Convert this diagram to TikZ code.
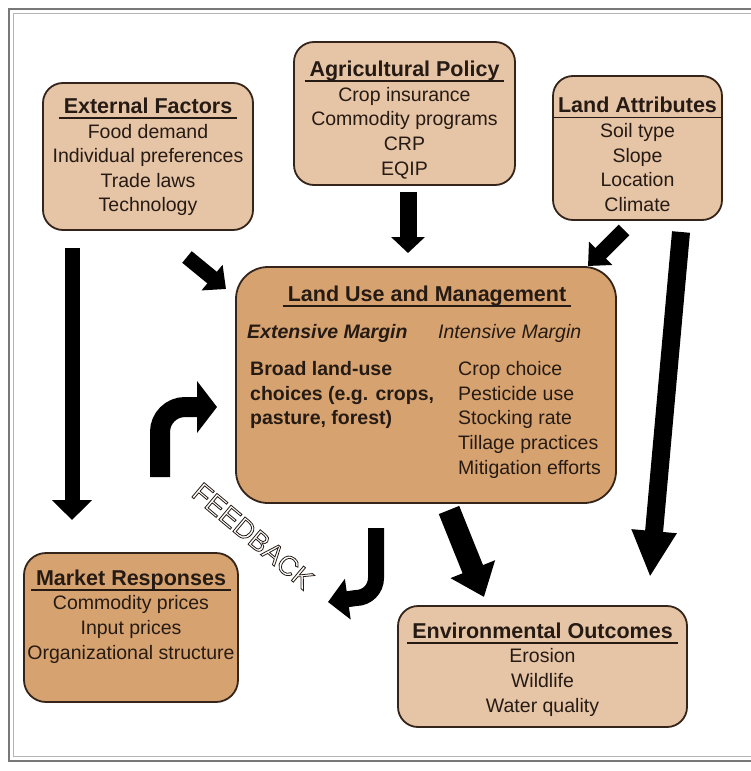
\documentclass[tikz,border=0pt]{standalone}
\usepackage{fontspec}
\setmainfont{Liberation Sans}
\usetikzlibrary{arrows.meta, calc}
\definecolor{tanlight}{RGB}{230,196,166}
\definecolor{tandark}{RGB}{214,162,112}
\definecolor{boxline}{RGB}{52,36,26}
\definecolor{inkdark}{RGB}{38,27,20}
\definecolor{framegray}{RGB}{120,120,120}

% bold heading with a rule a little wider than the words
\newcommand{\ulhead}[1]{\setbox0\hbox{\fontsize{21.5}{24.5}\selectfont\bfseries #1}%
  \rlap{\hspace*{-5pt}\rule[-5.5pt]{\dimexpr\wd0+10pt\relax}{1.8pt}}\box0}

\tikzset{
  panel/.style={draw=boxline, line width=1.8pt, fill=tanlight, rounded corners=20pt, inner sep=0pt, outer sep=0pt},
  paneltext/.style={align=center, text=inkdark, inner sep=0pt, font=\fontsize{19.5}{24.6}\selectfont},
  fat/.style n args={3}{draw=black, line width=#1, -{Triangle[length=#2, width=#3]}},
}

\begin{document}
\begin{tikzpicture}[x=1pt, y=-1pt]
    \useasboundingbox (0,0) rectangle (751,771);
    % frame
    \draw[framegray, line width=1.4pt] (9,9) rectangle (790,761);
    \draw[framegray!55, line width=1pt] (13.5,13.5) rectangle (786,756.5);

    % boxes
    \node[panel, minimum width=210pt, minimum height=147pt] (ext) at (148,156.5) {};
    \node[panel, minimum width=221pt, minimum height=143pt] (agri) at (404.5,113.5) {};
    \node[panel, minimum width=169pt, minimum height=144pt] (land) at (637.5,148) {};
    \node[panel, fill=tandark, rounded corners=32pt, minimum width=380pt, minimum height=236pt] (lum) at (426,385) {};
    \node[panel, fill=tandark, rounded corners=22pt, minimum width=214pt, minimum height=149pt] (mkt) at (131,627.5) {};
    \node[panel, minimum width=289pt, minimum height=121pt] (env) at (542.5,666.5) {};

    \node[paneltext] (extT) at (148,157) {\ulhead{External Factors}\\Food demand\\Individual preferences\\Trade laws\\Technology};
    \node[paneltext] (agriT) at (404.5,120) {\ulhead{Agricultural Policy}\\Crop insurance\\Commodity programs\\CRP\\EQIP};
    \node[paneltext] (landT) at (637.5,154.5) {\ulhead{Land Attributes}\\Soil type\\Slope\\Location\\Climate};
    \node[paneltext] (mktT) at (131,616.5) {\ulhead{Market Responses}\\Commodity prices\\Input prices\\Organizational structure};
    \node[paneltext] (envT) at (542.5,669.5) {\ulhead{Environmental Outcomes}\\Erosion\\Wildlife\\Water quality};

    % inside land use box
    \node[paneltext, anchor=base] (lumT) at (427,301) {\ulhead{Land Use and Management}};
    \node[paneltext, anchor=base west, font=\fontsize{19.5}{24.7}\selectfont\bfseries\itshape] (extm) at (247,338) {Extensive Margin};
    \node[paneltext, anchor=base west, font=\fontsize{19.5}{24.7}\selectfont\itshape] (intm) at (438,338) {Intensive Margin};
    \node[paneltext, align=left, anchor=north west, font=\fontsize{19.5}{24.7}\selectfont\bfseries] (extl) at (250,361) {Broad land-use\\choices (e.g. crops,\\pasture, forest)};
    \node[paneltext, align=left, anchor=north west, font=\fontsize{19.5}{24.7}\selectfont] (intl) at (458,361) {Crop choice\\Pesticide use\\Stocking rate\\Tillage practices\\Mitigation efforts};

    % arrows
    \draw[fat={15pt}{20pt}{39pt}] ($(ext.south west)+(29,18)$) -- ($(mkt.north west)+(48,-33)$);
    \draw[fat={15pt}{18pt}{32pt}] ($(ext.south west)+(144,27)$) -- ($(lum.north west)+(-10,22)$);
    \draw[fat={17pt}{16pt}{33pt}] ($(agri.south)+(3.5,7)$) -- ($(lum.north)+(-18,-14)$);
    \draw[fat={15pt}{18pt}{32pt}] ($(land.south)+(-13.5,10)$) -- ($(lum.north east)+(-28,-1)$);
    \draw[fat={18pt}{46pt}{42pt}] ($(land.south)+(43.5,12)$) -- ($(env.north east)+(-37,-29)$);
    \draw[fat={22pt}{30pt}{46pt}] ($(lum.south)+(23,7)$) -- ($(env.north west)+(86,-9)$);

    % feedback loop
    \draw[fat={16pt}{20pt}{40pt}] ($(lum.south)+(-50,25)$) -- ++(0,50) arc[start angle=0, end angle=90, radius=20] -- ($(mkt.north east)+(90,49)$);
    \draw[fat={20pt}{20pt}{51pt}] ($(mkt.north)+(29,-76)$) -- ++(0,-45) arc[start angle=180, end angle=270, radius=25] -- ($(lum.west)+(-19,22)$);
    \node[rotate=-40, text=inkdark, inner sep=0pt, font=\fontsize{27.5}{30}\selectfont] (fb) at (253,536)
        {\special{pdf:literal direct 1 Tr 0.8 w}FEEDBACK\special{pdf:literal direct 0 Tr}};
\end{tikzpicture}
\end{document}
